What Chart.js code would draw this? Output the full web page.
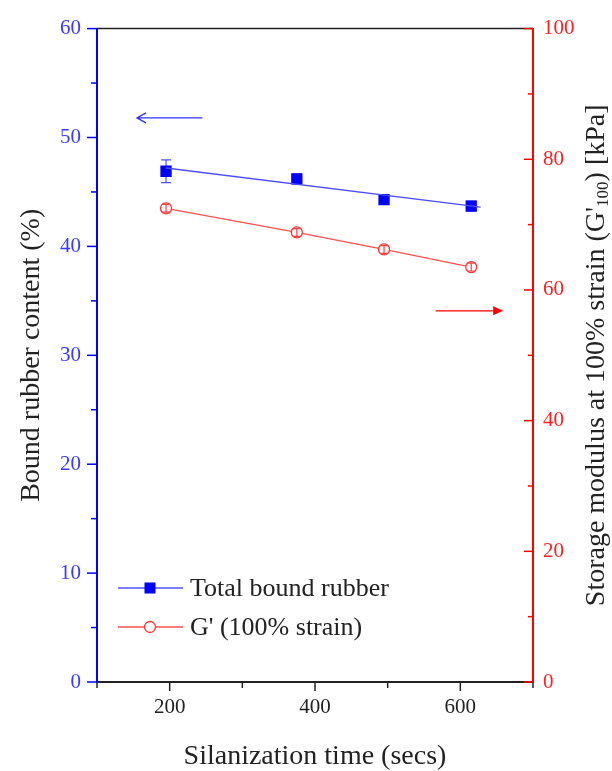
<!DOCTYPE html>
<html>
<head>
<meta charset="utf-8">
<script src="https://cdn.jsdelivr.net/npm/chart.js@4"></script>
<style>
  body { margin: 0; background: #fff; }
  #wrap { width: 612px; height: 771px; }
</style>
</head>
<body>
<div id="wrap"><canvas id="myChart"></canvas></div>
<script>
// data
const times = [195, 375, 495, 615];
const boundRubber = [46.9, 46.2, 44.3, 43.7];
const boundRubberErr = [1.05, 0.45, 0.35, 0.45];
const storageModulus = [72.5, 68.8, 66.2, 63.5];
const storageModulusErr = [0.6, 0.6, 0.6, 0.6];
// end points of the fitted blue line
const fitTimes = [195, 628];
const fitRubber = [47.2, 43.6];
// tick labels
const xTicks = [200, 400, 600];
const leftTicks = [0, 10, 20, 30, 40, 50, 60];
const rightTicks = [0, 20, 40, 60, 80, 100];

const FONT = '"Liberation Serif", "DejaVu Serif", serif';
const BLUE = '#0000ff';
const RED = '#ff0000';

function pts(xs, ys) {
  return xs.map((x, i) => ({ x: x, y: ys[i] }));
}

function errBars(chart, ys, errs, scale, color, cap) {
  const ctx = chart.ctx, x = chart.scales.x;
  ctx.save();
  ctx.strokeStyle = color;
  ctx.lineWidth = 1.2;
  times.forEach((t, i) => {
    const px = x.getPixelForValue(t);
    const top = scale.getPixelForValue(ys[i] + errs[i]);
    const bot = scale.getPixelForValue(ys[i] - errs[i]);
    ctx.beginPath();
    ctx.moveTo(px, top); ctx.lineTo(px, bot);
    ctx.moveTo(px - cap, top); ctx.lineTo(px + cap, top);
    ctx.moveTo(px - cap, bot); ctx.lineTo(px + cap, bot);
    ctx.stroke();
  });
  ctx.restore();
}

// everything the library doesn't draw by itself
const extras = {
  id: 'extras',
  beforeDatasetsDraw(chart) {
    // blue bars sit behind the squares
    errBars(chart, boundRubber, boundRubberErr, chart.scales.yL, '#5050ff', 5);
  },
  afterDatasetsDraw(chart) {
    const ctx = chart.ctx;
    const x = chart.scales.x, yL = chart.scales.yL, yR = chart.scales.yR;
    const a = chart.chartArea;

    // red bars show inside the open circles
    errBars(chart, storageModulus, storageModulusErr, yR, '#ff4040', 4);

    ctx.save();
    // top frame line
    ctx.strokeStyle = '#222';
    ctx.lineWidth = 1.5;
    ctx.beginPath();
    ctx.moveTo(a.left, a.top); ctx.lineTo(a.right, a.top);
    ctx.stroke();

    // tick marks (major + minor)
    ctx.lineWidth = 1.5;
    for (let v = 100; v <= 700; v += 100) {
      const px = x.getPixelForValue(v);
      const len = (v % 200 === 0) ? 9 : 6;
      ctx.beginPath(); ctx.moveTo(px, a.bottom); ctx.lineTo(px, a.bottom + len); ctx.stroke();
    }
    ctx.strokeStyle = BLUE;
    for (let v = 0; v <= 60; v += 5) {
      const py = yL.getPixelForValue(v);
      const len = (v % 10 === 0) ? 10 : 6;
      ctx.beginPath(); ctx.moveTo(a.left, py); ctx.lineTo(a.left - len, py); ctx.stroke();
    }
    ctx.strokeStyle = RED;
    for (let v = 0; v <= 100; v += 10) {
      const py = yR.getPixelForValue(v);
      const len = (v % 20 === 0) ? 9 : 5;
      ctx.beginPath(); ctx.moveTo(a.right, py); ctx.lineTo(a.right - len, py); ctx.stroke();
    }

    // arrows
    ctx.lineWidth = 1.3;
    ctx.strokeStyle = '#3030ff';
    let ay = yL.getPixelForValue(51.8);
    let ax1 = x.getPixelForValue(245), ax2 = x.getPixelForValue(155);
    ctx.beginPath();
    ctx.moveTo(ax1, ay); ctx.lineTo(ax2, ay);
    ctx.moveTo(ax2 + 9, ay - 5); ctx.lineTo(ax2, ay); ctx.lineTo(ax2 + 9, ay + 5);
    ctx.stroke();

    ctx.strokeStyle = RED;
    ctx.fillStyle = RED;
    ay = yR.getPixelForValue(56.8);
    ax1 = x.getPixelForValue(566); ax2 = x.getPixelForValue(659);
    ctx.beginPath(); ctx.moveTo(ax1, ay); ctx.lineTo(ax2 - 6, ay); ctx.stroke();
    ctx.beginPath();
    ctx.moveTo(ax2, ay); ctx.lineTo(ax2 - 10, ay - 4.5); ctx.lineTo(ax2 - 10, ay + 4.5);
    ctx.closePath(); ctx.fill();

    // legend inside the plot
    ctx.font = '26px ' + FONT;
    ctx.textBaseline = 'middle';
    ctx.lineWidth = 1.3;
    ctx.strokeStyle = '#5050ff';
    ctx.beginPath(); ctx.moveTo(118, 588); ctx.lineTo(183, 588); ctx.stroke();
    ctx.fillStyle = BLUE;
    ctx.fillRect(144.5, 582.5, 11, 11);
    ctx.fillStyle = '#222';
    ctx.fillText('Total bound rubber', 190, 589);

    ctx.strokeStyle = '#ff5050';
    ctx.beginPath(); ctx.moveTo(118, 627); ctx.lineTo(144, 627); ctx.moveTo(156, 627); ctx.lineTo(183, 627); ctx.stroke();
    ctx.strokeStyle = '#ff3030';
    ctx.beginPath(); ctx.arc(150, 627, 5.5, 0, Math.PI * 2); ctx.stroke();
    ctx.fillStyle = '#222';
    ctx.fillText("G' (100% strain)", 190, 628);

    // axis titles
    ctx.font = '28px ' + FONT;
    ctx.textAlign = 'center';
    ctx.fillText('Silanization time (secs)', (a.left + a.right) / 2, 757);

    ctx.save();
    ctx.translate(32, (a.top + a.bottom) / 2);
    ctx.rotate(-Math.PI / 2);
    ctx.fillText('Bound rubber content (%)', 0, 0);
    ctx.restore();

    // right title with subscript
    ctx.save();
    ctx.translate(597, (a.top + a.bottom) / 2);
    ctx.rotate(-Math.PI / 2);
    ctx.textAlign = 'left';
    const big = '28px ' + FONT, small = '17px ' + FONT;
    const p1 = "Storage modulus at 100% strain (G'", p2 = '100', p3 = ') [kPa]';
    ctx.font = big; const w1 = ctx.measureText(p1).width, w3 = ctx.measureText(p3).width;
    ctx.font = small; const w2 = ctx.measureText(p2).width;
    let sx = -(w1 + w2 + w3) / 2;
    ctx.font = big; ctx.fillText(p1, sx, 0); sx += w1;
    ctx.font = small; ctx.fillText(p2, sx, 7); sx += w2;
    ctx.font = big; ctx.fillText(p3, sx, 0);
    ctx.restore();

    ctx.restore();
  }
};

const ctx = document.getElementById('myChart').getContext('2d');
const myChart = new Chart(ctx, {
  type: 'scatter',
  data: {
    datasets: [
      {
        // fitted line for bound rubber
        data: pts(fitTimes, fitRubber),
        yAxisID: 'yL',
        showLine: true,
        borderColor: '#4d4dff',
        borderWidth: 1.3,
        pointRadius: 0
      },
      {
        label: 'Total bound rubber',
        data: pts(times, boundRubber),
        yAxisID: 'yL',
        showLine: false,
        pointStyle: 'rect',
        pointRadius: 8,
        backgroundColor: BLUE,
        borderColor: BLUE,
        borderWidth: 0
      },
      {
        label: "G' (100% strain)",
        data: pts(times, storageModulus),
        yAxisID: 'yR',
        showLine: true,
        borderColor: '#ff5050',
        borderWidth: 1.3,
        pointStyle: 'circle',
        pointRadius: 5.5,
        pointBackgroundColor: '#ffffff',
        pointBorderColor: '#ff3030',
        pointBorderWidth: 1.3
      }
    ]
  },
  options: {
    responsive: true,
    maintainAspectRatio: false,
    animation: false,
    layout: { padding: { top: 25, left: 0, right: 0, bottom: 0 }, autoPadding: false },
    plugins: {
      legend: { display: false },
      tooltip: { enabled: false }
    },
    scales: {
      x: {
        type: 'linear',
        min: 100,
        max: 700,
        afterBuildTicks: s => { s.ticks = xTicks.map(v => ({ value: v })); },
        afterFit: s => { s.height = 89; },
        ticks: { color: '#222', font: { family: FONT, size: 21 }, padding: 13, maxRotation: 0, autoSkip: false },
        grid: { display: false, drawTicks: false },
        border: { color: '#222', width: 2 }
      },
      yL: {
        position: 'left',
        min: 0,
        max: 60,
        afterBuildTicks: s => { s.ticks = leftTicks.map(v => ({ value: v })); },
        afterFit: s => { s.width = 97; },
        ticks: { color: '#3a3aff', font: { family: FONT, size: 21 }, padding: 16, autoSkip: false },
        grid: { display: false, drawTicks: false },
        border: { color: BLUE, width: 2 }
      },
      yR: {
        position: 'right',
        min: 0,
        max: 100,
        afterBuildTicks: s => { s.ticks = rightTicks.map(v => ({ value: v })); },
        afterFit: s => { s.width = 79; },
        ticks: { color: '#ff2020', font: { family: FONT, size: 21 }, padding: 10, autoSkip: false },
        grid: { display: false, drawTicks: false },
        border: { color: RED, width: 2 }
      }
    }
  },
  plugins: [extras]
});
</script>
</body>
</html>
